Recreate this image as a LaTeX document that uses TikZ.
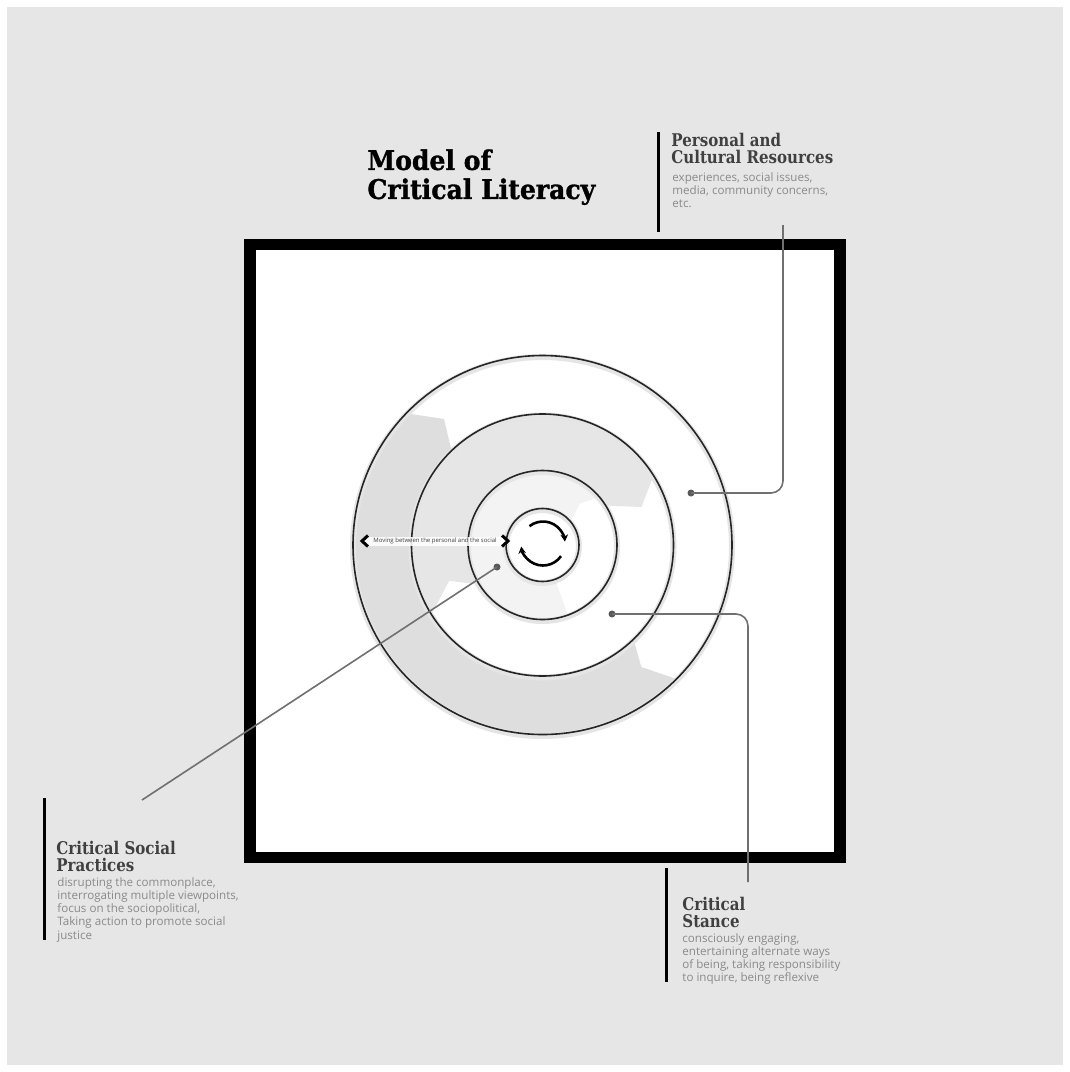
\documentclass[tikz,border=0pt]{standalone}
\usepackage{fontspec}
\setmainfont{Open Sans}
\newfontfamily\headfont{DejaVu Serif}[FakeStretch=0.86]
\newfontfamily\titlefont{DejaVu Serif}[FakeStretch=0.93,FakeBold=1.2]
\usepackage{tikz}
\usetikzlibrary{arrows.meta,calc}
\definecolor{bggray}{HTML}{E6E6E6}
\definecolor{headgray}{HTML}{404040}
\definecolor{bodygray}{HTML}{8A8A8A}
\definecolor{leadgray}{HTML}{707070}
\definecolor{bandgray}{HTML}{DEDEDE}
\definecolor{bandlight}{HTML}{E6E6E6}
\definecolor{bandpale}{HTML}{F3F3F3}

\begin{document}
\begin{tikzpicture}[x=1pt,y=-1pt,thick]
        \tikzstyle{head} = [font=\headfont\bfseries\fontsize{17.5}{16.5}\selectfont, text=headgray, align=left, inner sep=0pt, anchor=north west]
        \tikzstyle{blurb} = [font=\fontsize{11.6}{13.2}\selectfont, text=bodygray, align=left, inner sep=0pt, anchor=north west]
        \tikzstyle{bar} = [line width=3pt]
        \tikzstyle{lead} = [draw=leadgray, line width=1.6pt, rounded corners=12pt]
        \tikzstyle{dot} = [circle, fill=black!65, inner sep=0pt, minimum size=7pt]
        \tikzstyle{ring} = [line width=1.6pt, draw=black!85]
        \tikzstyle{halo} = [line width=6pt, draw=black!10]
        \tikzstyle{spin} = [line width=2.6pt, -{Stealth[length=7pt,width=7.5pt]}]

        % Page
        \useasboundingbox (0,0) rectangle (1070,1072);
        \fill[white] (0,0) rectangle (1070,1072);
        \fill[bggray] (7,7) rectangle (1063,1065);
        \draw[line width=11.5pt, fill=white] (250,244.5) rectangle (840,857.5);

        % Rings
        \coordinate (ctr) at (542.5,545);
        \fill[bandpale] ($(ctr)+(-290:74.5)$) arc[start angle=-290, end angle=-40, radius=74.5]
            -- ($(ctr)+(-48:56)$) -- ($(ctr)+(-40:36.5)$)
            arc[start angle=-40, end angle=-290, radius=36.5] -- cycle;
        \fill[bandlight] ($(ctr)+(-212:131)$) arc[start angle=-212, end angle=-32, radius=131]
            -- ($(ctr)+(-21:106)$) -- ($(ctr)+(-32:74.5)$)
            arc[start angle=-32, end angle=-212, radius=74.5] -- ($(ctr)+(-201:100)$) -- cycle;
        \fill[bandgray] ($(ctr)+(45:189.5)$) arc[start angle=45, end angle=224, radius=189.5]
            -- ($(ctr)+(232:160)$) -- ($(ctr)+(226:131)$)
            arc[start angle=226, end angle=46, radius=131] -- ($(ctr)+(51:157)$) -- cycle;
        \foreach \r in {36.5,74.5,131,189.5}
            \draw[halo] ($(ctr)+(0,1.5)$) circle[radius=\r];
        \foreach \r in {36.5,74.5,131,189.5}
            \draw[ring] (ctr) circle[radius=\r];

        % Centre
        \node[font=\fontsize{6}{7}\selectfont, text=black!75, fill=white, fill opacity=0.85, text opacity=1,
              inner xsep=9pt, inner ysep=1.5pt] (moving) at (435,541) {Moving between the personal and the social};
        \draw[line width=3pt] ($(moving.west)+(4,-5.5)$) -- ($(moving.west)+(-2,0)$) -- ($(moving.west)+(4,5.5)$);
        \draw[line width=3pt] ($(moving.east)+(-4,-5.5)$) -- ($(moving.east)+(2,0)$) -- ($(moving.east)+(-4,5.5)$);
        \coordinate (spin) at (543,543.5);
        \draw[spin] ($(spin)+(-128:22)$) arc[start angle=-128, end angle=-5, radius=22];
        \draw[spin] ($(spin)+(35:22)$) arc[start angle=35, end angle=172, radius=22];

        % Nodes
        \node[font=\titlefont\bfseries\fontsize{27}{29}\selectfont, align=left, inner sep=0pt, anchor=north west]
            (title) at (367,149) {Model of\\Critical Literacy};
        \node[head] (pcrhead) at (671,133) {Personal and\\Cultural Resources};
        \node[blurb] (pcrtext) at (672,172) {experiences, social issues,\\media, community concerns,\\etc.};
        \node[head] (csphead) at (56,841) {Critical Social\\Practices};
        \node[blurb] (csptext) at (57,877) {disrupting the commonplace,\\interrogating multiple viewpoints,\\focus on the sociopolitical,\\Taking action to promote social\\justice};
        \node[head] (cshead) at (682,897) {Critical\\Stance};
        \node[blurb] (cstext) at (682,933) {consciously engaging,\\entertaining alternate ways\\of being, taking responsibility\\to inquire, being reflexive};
        \draw[bar] (658,132) -- (658,232);
        \draw[bar] (44,798) -- (44,940);
        \draw[bar] (666,868) -- (666,982);

        % Edges
        \node[dot] (pcrdot) at (691,493) {};
        \node[dot] (csdot) at (612,614) {};
        \node[dot] (cspdot) at (497,567) {};
        \coordinate (pcrend) at (783,225);
        \coordinate (csend) at (748,882);
        \coordinate (cspend) at (142,800);
        \path[lead] (pcrdot.center) -| (pcrend);
        \path[lead] (csdot.center) -| (csend);
        \path[lead] (cspdot.center) -- (cspend);
\end{tikzpicture}
\end{document}
